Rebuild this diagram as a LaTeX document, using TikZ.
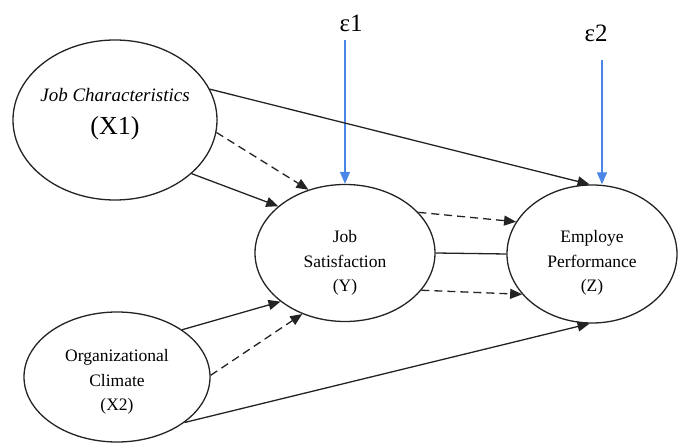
\documentclass[tikz,border=0pt]{standalone}
\usepackage{fontspec}
\setmainfont{Liberation Serif}
\usetikzlibrary{arrows.meta,positioning,shapes.geometric}
\definecolor{errblue}{RGB}{74,134,232}
\definecolor{linegray}{RGB}{35,35,35}
\tikzset{
  latent/.style={ellipse, draw=linegray, line width=1.3pt, inner sep=0pt},
  lbl/.style={align=center, inner sep=0pt, font=\fontsize{17.5}{24.5}\selectfont},
  errlbl/.style={inner sep=0pt, font=\fontsize{25}{25}\selectfont},
  effect/.style={-{Triangle[length=12pt,width=10pt]}, line width=1.3pt, draw=linegray},
  indirect/.style={effect, dash pattern=on 8pt off 5pt},
  errarrow/.style={effect, draw=errblue}
}
\begin{document}
\begin{tikzpicture}[x=1pt, y=-1pt]
  \useasboundingbox (0,0) rectangle (678,443);
  \node[latent, minimum width=204pt, minimum height=160pt] (x1) at (115,120) {};
  \node[latent, minimum width=186pt, minimum height=130pt] (x2) at (117,377) {};
  \node[latent, minimum width=180pt, minimum height=137pt] (y) at (345,253) {};
  \node[latent, minimum width=170pt, minimum height=138pt] (z) at (592,254) {};
  \node[lbl, font=\fontsize{19}{19}\selectfont\itshape] (x1a) at (115,95) {Job Characteristics};
  \node[lbl, font=\fontsize{26}{26}\selectfont] (x1b) at (115,128) {(X1)};
  \node[lbl] (x2t) at (117,382) {Organizational\\Climate\\(X2)};
  \node[lbl] (yt) at (345,263) {Job\\Satisfaction\\(Y)};
  \node[lbl] (zt) at (592,263) {Employe\\Performance\\(Z)};
  \node[errlbl] (e1) at (351,23) {ε1};
  \node[errlbl] (e2) at (596,33) {ε2};
  \coordinate (e1s) at (345,40);
  \coordinate (e2s) at (602,60);
  \draw[errarrow] (e1s) -- (y.north);
  \draw[errarrow] (e2s) -- (e2s |- z.north);
  \draw[effect] (x1.18) -- (z.92);
  \draw[indirect] (x1.-7) -- (y.120);
  \draw[effect] (x1.-35) -- (y.145);
  \draw[effect] (x2.36) -- (y.217);
  \draw[indirect] (x2.1) -- (y.235);
  \draw[effect] (x2.-34) -- (z.268);
  \draw[indirect] (y.29) -- (z.157);
  \draw[effect, -] (y.east) -- (z.west);
  \draw[indirect] (y.-26) -- (z.-150);
\end{tikzpicture}
\end{document}
